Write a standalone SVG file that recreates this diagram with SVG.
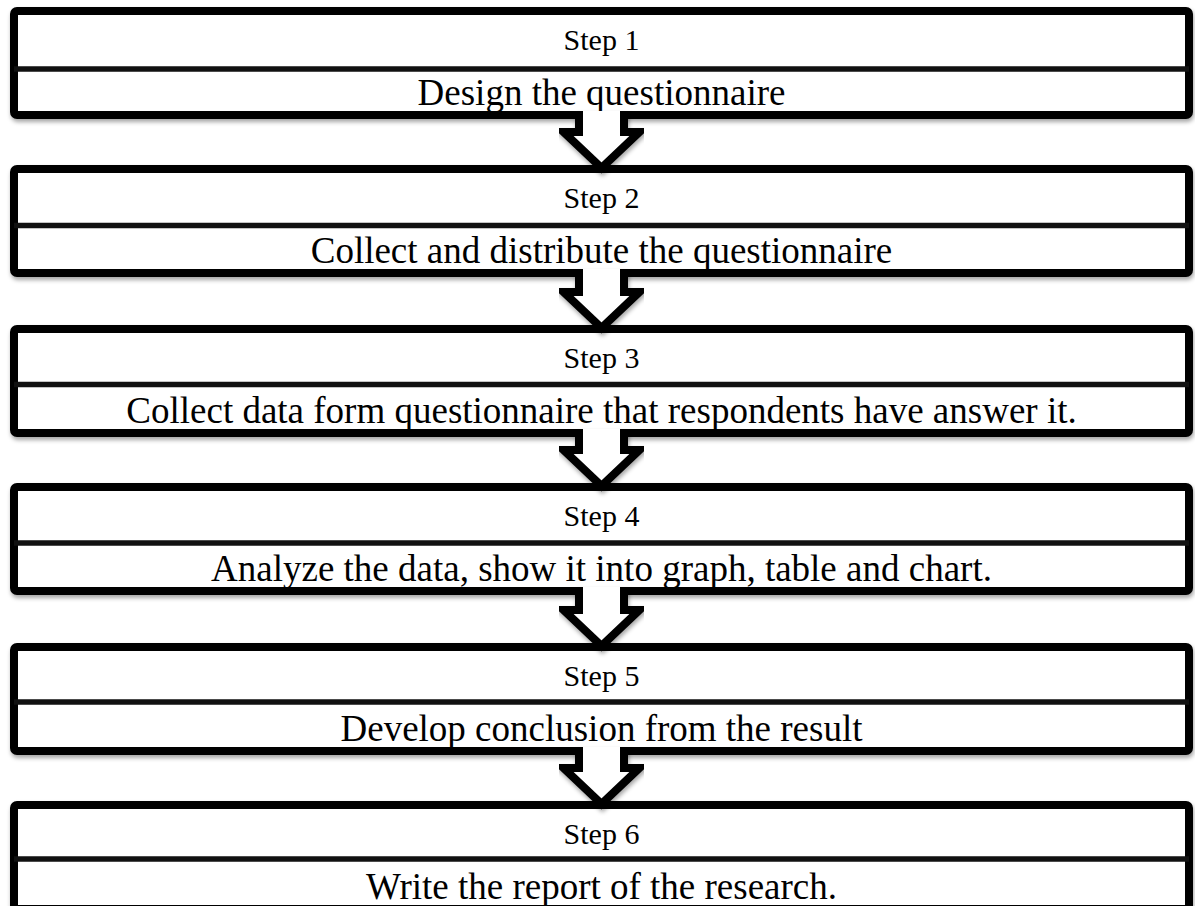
<svg xmlns="http://www.w3.org/2000/svg" width="1195" height="906" viewBox="0 0 1195 906">
<defs>
<filter id="sh" x="-5%" y="-20%" width="110%" height="150%">
<feDropShadow dx="1" dy="3" stdDeviation="2" flood-color="#000" flood-opacity="0.35"/>
</filter>
<style>
.box{fill:#fff;stroke:#000;stroke-width:8;}
.div{stroke:#111;stroke-width:5.5;}
.step{font-family:"Liberation Serif","Times New Roman",serif;font-size:30px;fill:#000;text-anchor:middle;}
.main{font-family:"Liberation Serif","Times New Roman",serif;font-size:37px;fill:#000;text-anchor:middle;}
.afill{fill:#fff;stroke:none;}
.aline{fill:none;stroke:#000;stroke-width:8;stroke-linejoin:miter;stroke-miterlimit:4;}
</style>
</defs>
<rect width="1195" height="906" fill="#fff"/>
<g id="step1">
<rect class="box" x="14" y="11" width="1175" height="104" rx="3" filter="url(#sh)"/>
<line class="div" x1="14" y1="69" x2="1189" y2="69"/>
<text class="step" x="601.5" y="50">Step 1</text>
<text class="main" x="601.5" y="105">Design the questionnaire</text>
</g>
<g id="step2">
<rect class="box" x="14" y="169" width="1175" height="104" rx="3" filter="url(#sh)"/>
<line class="div" x1="14" y1="225.5" x2="1189" y2="225.5"/>
<text class="step" x="601.5" y="208">Step 2</text>
<text class="main" x="601.5" y="263">Collect and distribute the questionnaire</text>
</g>
<g id="step3">
<rect class="box" x="14" y="329" width="1175" height="104" rx="3" filter="url(#sh)"/>
<line class="div" x1="14" y1="384.5" x2="1189" y2="384.5"/>
<text class="step" x="601.5" y="368">Step 3</text>
<text class="main" x="601.5" y="423">Collect data form questionnaire that respondents have answer it.</text>
</g>
<g id="step4">
<rect class="box" x="14" y="487" width="1175" height="104" rx="3" filter="url(#sh)"/>
<line class="div" x1="14" y1="543" x2="1189" y2="543"/>
<text class="step" x="601.5" y="526">Step 4</text>
<text class="main" x="601.5" y="581">Analyze the data, show it into graph, table and chart.</text>
</g>
<g id="step5">
<rect class="box" x="14" y="647" width="1175" height="104" rx="3" filter="url(#sh)"/>
<line class="div" x1="14" y1="702" x2="1189" y2="702"/>
<text class="step" x="601.5" y="686">Step 5</text>
<text class="main" x="601.5" y="741">Develop conclusion from the result</text>
</g>
<g id="step6">
<rect class="box" x="14" y="805" width="1175" height="104" rx="3" filter="url(#sh)"/>
<line class="div" x1="14" y1="859" x2="1189" y2="859"/>
<text class="step" x="601.5" y="844">Step 6</text>
<text class="main" x="601.5" y="899">Write the report of the research.</text>
</g>
<g id="connectors">
<g filter="url(#sh)">
<path class="afill" d="M579 111V132H563.5L601.5 168L639.5 132H624V111Z"/>
<path class="aline" d="M579 111V132H563.5L601.5 168L639.5 132H624V111"/>
</g>
<g filter="url(#sh)">
<path class="afill" d="M579 269V292H563.5L601.5 328L639.5 292H624V269Z"/>
<path class="aline" d="M579 269V292H563.5L601.5 328L639.5 292H624V269"/>
</g>
<g filter="url(#sh)">
<path class="afill" d="M579 429V450H563.5L601.5 486L639.5 450H624V429Z"/>
<path class="aline" d="M579 429V450H563.5L601.5 486L639.5 450H624V429"/>
</g>
<g filter="url(#sh)">
<path class="afill" d="M579 587V610H563.5L601.5 646L639.5 610H624V587Z"/>
<path class="aline" d="M579 587V610H563.5L601.5 646L639.5 610H624V587"/>
</g>
<g filter="url(#sh)">
<path class="afill" d="M579 747V768H563.5L601.5 804L639.5 768H624V747Z"/>
<path class="aline" d="M579 747V768H563.5L601.5 804L639.5 768H624V747"/>
</g>
</g>
</svg>
